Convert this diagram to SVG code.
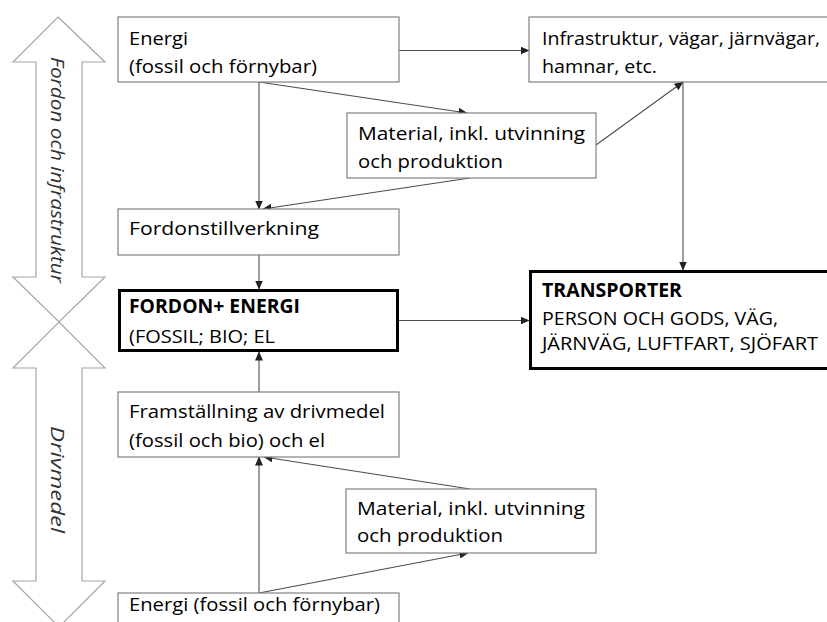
<svg xmlns="http://www.w3.org/2000/svg" width="827" height="622" viewBox="0 0 827 622">
<style>
.box{fill:#fff;stroke:#808080;stroke-width:1.2}
.tbox{fill:#fff;stroke:#000;stroke-width:3}
.t{font-family:"Open Sans","Liberation Sans",sans-serif;font-size:19px;fill:#000}
.b{font-weight:bold}
.big{fill:#fff;stroke:#a6a6a6;stroke-width:1.2}
.side{font-family:"Open Sans","Liberation Sans",sans-serif;font-size:19px;font-style:italic;fill:#333}
.c{stroke:#4d4d4d;stroke-width:1.1;fill:none;marker-end:url(#ah)}
</style>
<defs>
<marker id="ah" markerUnits="userSpaceOnUse" markerWidth="9" markerHeight="8" refX="8.5" refY="4" orient="auto">
<path d="M0,0 L9,4 L0,8 z" fill="#222"/>
</marker>
</defs>
<rect width="827" height="622" fill="#fff"/>

<g id="arrow-fordon">
<polygon class="big" points="58,17 105,62 82,62 82,277 105,277 59,322 13,277 36,277 36,62 13,62"/>
<text class="side" transform="translate(51,57) rotate(90)" textLength="226" lengthAdjust="spacingAndGlyphs">Fordon och infrastruktur</text>
</g>
<g id="arrow-drivmedel">
<polygon class="big" points="59,322 105,368 82,368 82,581 105,581 59,627 13,581 36,581 36,368 13,368"/>
<text class="side" transform="translate(51,426) rotate(90)" textLength="107" lengthAdjust="spacingAndGlyphs">Drivmedel</text>
</g>

<g id="connectors">
<line class="c" x1="399" y1="50.5" x2="529" y2="50.5"/>
<line class="c" x1="259" y1="82" x2="259" y2="209"/>
<line class="c" x1="259" y1="82" x2="467" y2="113"/>
<line class="c" x1="470" y1="178" x2="263" y2="209"/>
<line class="c" x1="596" y1="145" x2="683" y2="82"/>
<line class="c" x1="683" y1="82" x2="683" y2="270"/>
<line class="c" x1="259" y1="255" x2="259" y2="289"/>
<line class="c" x1="399" y1="320.5" x2="529" y2="320.5"/>
<line class="c" x1="259" y1="392" x2="259" y2="352"/>
<line class="c" x1="259" y1="593" x2="259" y2="457"/>
<line class="c" x1="470" y1="489" x2="264" y2="457"/>
<line class="c" x1="259" y1="593" x2="468" y2="553"/>
</g>

<g id="energi-top">
<rect class="box" x="118" y="17" width="281" height="65"/>
<text class="t" x="129" y="45" textLength="59" lengthAdjust="spacingAndGlyphs">Energi</text>
<text class="t" x="129" y="73" textLength="188" lengthAdjust="spacingAndGlyphs">(fossil och förnybar)</text>
</g>
<g id="infrastruktur">
<rect class="box" x="529" y="17" width="310" height="65"/>
<text class="t" x="542" y="45" textLength="278" lengthAdjust="spacingAndGlyphs">Infrastruktur, vägar, järnvägar,</text>
<text class="t" x="542" y="73" textLength="115" lengthAdjust="spacingAndGlyphs">hamnar, etc.</text>
</g>
<g id="material-top">
<rect class="box" x="347" y="113" width="249" height="65"/>
<text class="t" x="358" y="140" textLength="227" lengthAdjust="spacingAndGlyphs">Material, inkl. utvinning</text>
<text class="t" x="358" y="168" textLength="145" lengthAdjust="spacingAndGlyphs">och produktion</text>
</g>
<g id="fordonstillverkning">
<rect class="box" x="118" y="209" width="281" height="46"/>
<text class="t" x="129" y="235" textLength="190" lengthAdjust="spacingAndGlyphs">Fordonstillverkning</text>
</g>
<g id="fordon-energi">
<rect class="tbox" x="119.5" y="290.5" width="278" height="60"/>
<text class="t b" x="129" y="313" textLength="171" lengthAdjust="spacingAndGlyphs">FORDON+ ENERGI</text>
<text class="t" x="129" y="343" textLength="146" lengthAdjust="spacingAndGlyphs">(FOSSIL; BIO; EL</text>
</g>
<g id="transporter">
<rect class="tbox" x="530.5" y="271.5" width="310" height="97"/>
<text class="t b" x="542" y="297" textLength="140" lengthAdjust="spacingAndGlyphs">TRANSPORTER</text>
<text class="t" x="542" y="325" textLength="236" lengthAdjust="spacingAndGlyphs">PERSON OCH GODS, VÄG,</text>
<text class="t" x="542" y="350" textLength="276" lengthAdjust="spacingAndGlyphs">JÄRNVÄG, LUFTFART, SJÖFART</text>
</g>
<g id="framstallning">
<rect class="box" x="118" y="392" width="281" height="65"/>
<text class="t" x="129" y="418" textLength="256" lengthAdjust="spacingAndGlyphs">Framställning av drivmedel</text>
<text class="t" x="129" y="447" textLength="196" lengthAdjust="spacingAndGlyphs">(fossil och bio) och el</text>
</g>
<g id="material-bottom">
<rect class="box" x="346" y="489" width="250" height="64"/>
<text class="t" x="357" y="515" textLength="228" lengthAdjust="spacingAndGlyphs">Material, inkl. utvinning</text>
<text class="t" x="357" y="542" textLength="146" lengthAdjust="spacingAndGlyphs">och produktion</text>
</g>
<g id="energi-bottom">
<rect class="box" x="118" y="593" width="281" height="40"/>
<text class="t" x="129" y="611" textLength="251" lengthAdjust="spacingAndGlyphs">Energi (fossil och förnybar)</text>
</g>
</svg>
